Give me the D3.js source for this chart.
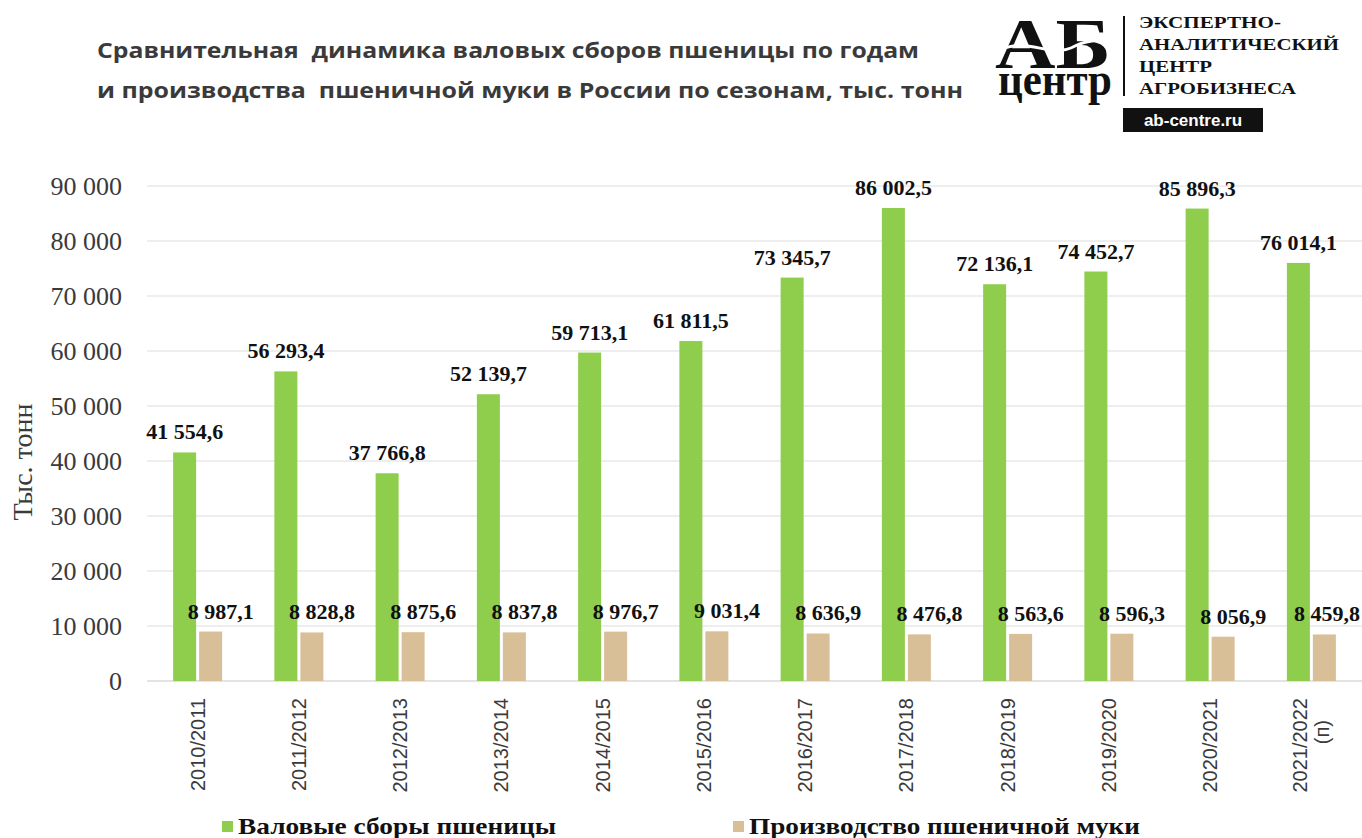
<!DOCTYPE html>
<html>
<head>
<meta charset="utf-8">
<script src="https://cdn.jsdelivr.net/npm/d3@7"></script>
<style>
  body { margin: 0; background: #ffffff; }
  svg { display: block; }
</style>
</head>
<body>
<script>
// Сезоны, валовые сборы пшеницы и производство муки, тыс. тонн
var seasons = ["2010/2011", "2011/2012", "2012/2013", "2013/2014", "2014/2015", "2015/2016",
  "2016/2017", "2017/2018", "2018/2019", "2019/2020", "2020/2021", "2021/2022 (п)"];
var wheatHarvest = [41554.6, 56293.4, 37766.8, 52139.7, 59713.1, 61811.5,
  73345.7, 86002.5, 72136.1, 74452.7, 85896.3, 76014.1];
var flourOutput = [8987.1, 8828.8, 8875.6, 8837.8, 8976.7, 9031.4,
  8636.9, 8476.8, 8563.6, 8596.3, 8056.9, 8459.8];
var seriesNames = ["Валовые сборы пшеницы", "Производство пшеничной муки"];
var yTicks = [0, 10000, 20000, 30000, 40000, 50000, 60000, 70000, 80000, 90000];

var svgWidth = 1362;
var svgHeight = 838;
var colors = ["#8fcd4c", "#d8bf98"];

var svg = d3.select("body")
  .append("svg")
  .attr("width", svgWidth)
  .attr("height", svgHeight);

// Заголовок
var titleLines = ["Сравнительная  динамика валовых сборов пшеницы по годам",
  "и производства  пшеничной муки в России по сезонам, тыс. тонн"];
var titleWidths = [822, 866];
titleLines.forEach(function (t, i) {
  svg.append("text")
    .attr("x", 97)
    .attr("y", 58 + i * 40)
    .attr("font-family", "Open Sans")
    .attr("font-weight", "bold")
    .attr("font-size", 21)
    .attr("fill", "#3a3a3a")
    .attr("textLength", titleWidths[i])
    .attr("lengthAdjust", "spacingAndGlyphs")
    .style("white-space", "pre")
    .text(t);
});

// Логотип
var logo = svg.append("g");
logo.append("text")
  .attr("x", 1053).attr("y", 68)
  .attr("text-anchor", "middle")
  .attr("font-family", "Liberation Serif").attr("font-weight", "bold")
  .attr("font-size", 72)
  .attr("textLength", 116).attr("lengthAdjust", "spacingAndGlyphs")
  .attr("fill", "#111").text("АБ");
logo.append("path")
  .attr("d", "M1000,50 C1030,36 1050,60 1075,46 C1090,38 1102,42 1112,38")
  .attr("fill", "none").attr("stroke", "#fff").attr("stroke-width", 3);
logo.append("text")
  .attr("x", 1055).attr("y", 95)
  .attr("text-anchor", "middle")
  .attr("font-family", "Liberation Serif").attr("font-weight", "bold")
  .attr("font-size", 46)
  .attr("textLength", 114).attr("lengthAdjust", "spacingAndGlyphs")
  .attr("fill", "#111").text("центр");
logo.append("line")
  .attr("x1", 1124).attr("x2", 1124).attr("y1", 16).attr("y2", 96)
  .attr("stroke", "#111").attr("stroke-width", 2);
var logoLines = ["ЭКСПЕРТНО-", "АНАЛИТИЧЕСКИЙ", "ЦЕНТР", "АГРОБИЗНЕСА"];
var logoWidths = [142, 200, 73, 157];
logoLines.forEach(function (t, i) {
  logo.append("text")
    .attr("x", 1139).attr("y", 28 + i * 22)
    .attr("font-family", "Liberation Serif").attr("font-weight", "bold")
    .attr("font-size", 17)
    .attr("textLength", logoWidths[i])
    .attr("lengthAdjust", "spacingAndGlyphs")
    .attr("fill", "#111").text(t);
});
logo.append("rect")
  .attr("x", 1123).attr("y", 108).attr("width", 140).attr("height", 24)
  .attr("fill", "#111");
logo.append("text")
  .attr("x", 1193).attr("y", 126)
  .attr("text-anchor", "middle")
  .attr("font-family", "Liberation Sans").attr("font-weight", "bold")
  .attr("font-size", 17)
  .attr("fill", "#fff").text("ab-centre.ru");

// Область графика
var plotLeft = 147, plotRight = 1362, plotTop = 186, plotBottom = 681;

var x0 = d3.scaleBand()
  .domain(seasons)
  .range([plotLeft, plotRight]);

var x1 = d3.scaleBand()
  .domain(seriesNames)
  .range([-24.5, 24.5])
  .paddingInner(0.115);

var y = d3.scaleLinear()
  .domain([0, 90000])
  .range([plotBottom, plotTop]);

// Сетка
svg.append("g")
  .selectAll("line")
  .data(yTicks)
  .enter()
  .append("line")
  .attr("x1", plotLeft)
  .attr("x2", plotRight)
  .attr("y1", d => y(d))
  .attr("y2", d => y(d))
  .attr("stroke", d => d === 0 ? "#c8c8c8" : "#dedede")
  .attr("stroke-width", 1.2);

// Ось Y
var fmt = function (d) { return d3.format(",")(d).replace(/,/g, " "); };
var leftAxis = d3.axisLeft(y).tickValues(yTicks).tickFormat(fmt).tickSize(0).tickPadding(0);
var yAxisG = svg.append("g")
  .attr("transform", "translate(122,0)")
  .call(leftAxis);
yAxisG.select(".domain").remove();
yAxisG.selectAll("text")
  .attr("font-family", "Liberation Serif")
  .attr("font-size", 26)
  .attr("fill", "#3a3a3a");

svg.append("text")
  .attr("transform", "translate(32," + 462 + ") rotate(-90)")
  .attr("text-anchor", "middle")
  .attr("font-family", "Liberation Serif")
  .attr("font-size", 28)
  .attr("fill", "#3a3a3a")
  .text("Тыс. тонн");

// Ось X
var xAxisG = svg.append("g");
seasons.forEach(function (s) {
  var cx = x0(s) + x0.bandwidth() / 2;
  var parts = s.split(" ");
  var t = xAxisG.append("text")
    .attr("transform", "translate(" + cx + ",698) rotate(-90)")
    .attr("text-anchor", "end")
    .attr("font-family", "Liberation Sans")
    .attr("font-size", 20)
    .attr("fill", "#3a3a3a");
  parts.forEach(function (p, i) {
    t.append("tspan")
      .attr("x", 0)
      .attr("dy", i === 0 ? (0.35 - (parts.length - 1) * 0.55) + "em" : "1.1em")
      .attr("dx", i === 0 ? 0 : -22)
      .text(p);
  });
});

// Столбцы
var rows = seasons.map(function (s, i) {
  return { season: s, values: [wheatHarvest[i], flourOutput[i]] };
});
var valFmt = function (v) {
  return d3.format(",.1f")(v).replace(/,/g, " ").replace(".", ",");
};

var groups = svg.append("g")
  .selectAll("g")
  .data(rows)
  .enter()
  .append("g")
  .attr("transform", d => "translate(" + (x0(d.season) + x0.bandwidth() / 2) + ",0)");

groups.selectAll("rect")
  .data(d => d.values.map((v, k) => ({ key: seriesNames[k], k: k, value: v })))
  .enter()
  .append("rect")
  .attr("x", d => x1(d.key))
  .attr("y", d => y(d.value))
  .attr("width", x1.bandwidth())
  .attr("height", d => y(0) - y(d.value))
  .attr("fill", d => colors[d.k]);

groups.each(function (row) {
  var g = d3.select(this);
  var cx = x0(row.season) + x0.bandwidth() / 2;
  row.values.forEach(function (v, k) {
    var lbl = g.append("text")
      .attr("y", y(v) - 13)
      .attr("text-anchor", "middle")
      .attr("font-family", "Liberation Serif")
      .attr("font-weight", "bold")
      .attr("font-size", 22)
      .attr("fill", "#111")
      .text(valFmt(v));
    var lx = x1(seriesNames[k]) + x1.bandwidth() / 2 + (k === 1 ? 10 : 0);
    var half = lbl.node().getComputedTextLength() / 2;
    if (cx + lx + half > svgWidth - 2) lx = svgWidth - 2 - half - cx;
    lbl.attr("x", lx);
  });
});

// Легенда
var legendX = [222, 733];
var legendW = [318, 391];
seriesNames.forEach(function (name, i) {
  svg.append("rect")
    .attr("x", legendX[i]).attr("y", 821)
    .attr("width", 11).attr("height", 11)
    .attr("fill", colors[i]);
  svg.append("text")
    .attr("x", legendX[i] + 16).attr("y", 834)
    .attr("font-family", "Liberation Serif")
    .attr("font-weight", "bold")
    .attr("font-size", 23)
    .attr("textLength", legendW[i])
    .attr("lengthAdjust", "spacingAndGlyphs")
    .attr("fill", "#111")
    .text(name);
});
</script>
</body>
</html>
